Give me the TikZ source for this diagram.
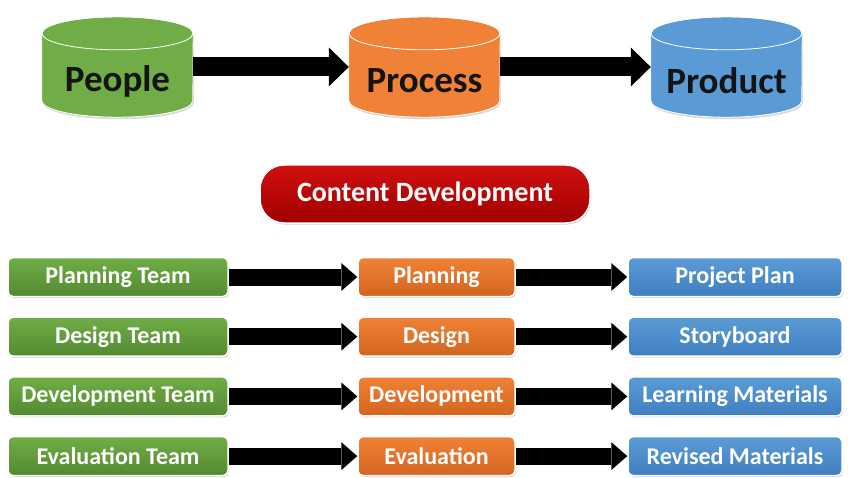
\documentclass[tikz,border=0pt]{standalone}
\usepackage{fontspec}
\setmainfont{Carlito}
\usetikzlibrary{arrows.meta,shadows}
\definecolor{grn}{HTML}{70AD47}
\definecolor{grnD}{HTML}{538A30}
\definecolor{org}{HTML}{F08237}
\definecolor{orgD}{HTML}{D2641E}
\definecolor{blu}{HTML}{5B9BD5}
\definecolor{bluD}{HTML}{3F7FC0}
\definecolor{crim}{HTML}{D01010}
\definecolor{crimD}{HTML}{A00000}

\begin{document}
\begin{tikzpicture}[x=1pt,y=-1pt,
    cyl/.style={minimum width=151pt, minimum height=100pt, inner sep=0pt},
    cyltxt/.style={font=\fontsize{37}{40}\selectfont\bfseries, text=black!92},
    box/.style={rounded corners=5pt, draw=white, line width=1.5pt, minimum height=39pt, inner sep=0pt,
        font=\fontsize{24}{26}\selectfont\bfseries, text=white,
        drop shadow={opacity=0.35,shadow xshift=1pt,shadow yshift=-1.5pt}},
    big/.style={line width=19pt, -{Triangle[width=39pt,length=20pt,line width=0pt]}},
    small/.style={line width=17pt, -{Triangle[width=28pt,length=16pt,line width=0pt]}}]
    \useasboundingbox[fill=white] (0,0) rectangle (850,478);

    \node[cyl] (people) at (117.5,67) {};
    \node[cyl] (process) at (424.5,67) {};
    \node[cyl] (product) at (726.5,67) {};
    \foreach \n/\c in {people/grn,process/org,product/blu} {
        \path[fill=\c, draw=white, line width=0.8pt, drop shadow={opacity=0.3,shadow xshift=1pt,shadow yshift=-2pt}]
            ([yshift=-16.5pt]\n.north west) -- ([yshift=16.5pt]\n.south west)
            arc[start angle=180, end angle=360, x radius=75.5pt, y radius=16.5pt]
            -- ([yshift=-16.5pt]\n.north east)
            arc[start angle=0, end angle=180, x radius=75.5pt, y radius=16.5pt] -- cycle;
        \draw[white, line width=0.8pt] ([yshift=-16.5pt]\n.north) ellipse[x radius=75.5pt, y radius=16.5pt];
    }
    \node[cyltxt] (peopleT) at (117.5,81) {People};
    \node[cyltxt] (processT) at (424.5,81) {Process};
    \node[cyltxt] (productT) at (726.5,81) {Product};
    \draw[big] (people) -- (process);
    \draw[big] (process) -- (product);

    \node[box, top color=crim, bottom color=crimD, minimum width=330pt, minimum height=58pt,
        rounded corners=24pt, font=\fontsize{28}{30}\selectfont\bfseries] (content) at (425,194) {Content Development};

    \foreach \i/\team/\stage/\result in {0/Planning Team/Planning/Project Plan,
        1/Design Team/Design/Storyboard, 2/Development Team/Development/Learning Materials,
        3/Evaluation Team/Evaluation/Revised Materials} {
        \node[box, top color=grn, bottom color=grnD, minimum width=220pt] (team\i) at (118,{277+59.7*\i}) {\team};
        \node[box, top color=org, bottom color=orgD, minimum width=157pt] (stage\i) at (436.5,{277+59.7*\i}) {\stage};
        \node[box, top color=blu, bottom color=bluD, minimum width=214pt] (result\i) at (735,{277+59.7*\i}) {\result};
        \draw[small] (team\i) -- (stage\i);
        \draw[small] (stage\i) -- (result\i);
    }
\end{tikzpicture}
\end{document}
